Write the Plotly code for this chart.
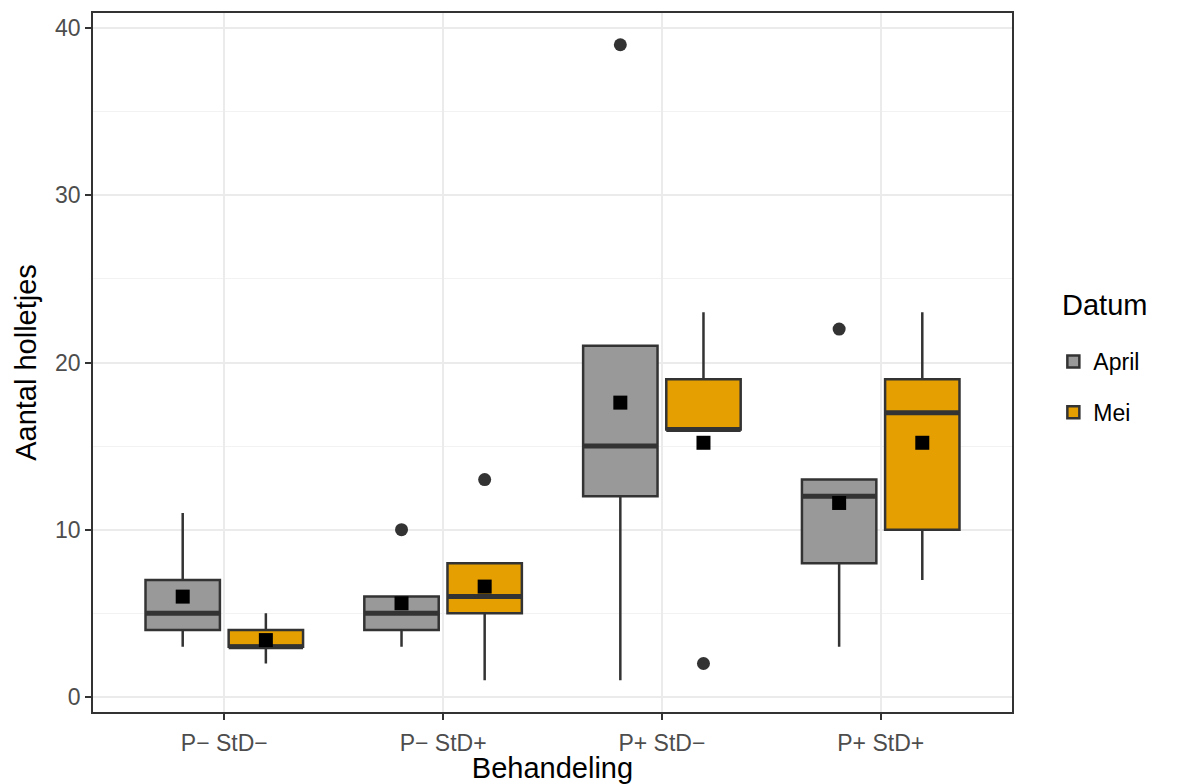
import numpy as np
import plotly.graph_objects as go

# Treatments on the x axis and the two sampling dates
behandelingen = ["P\u2212 StD\u2212", "P\u2212 StD+", "P+ StD\u2212", "P+ StD+"]
datums = ["April", "Mei"]

# Number of holes per replicate (5 replicates per treatment)
april = [
    [3, 4, 5, 7, 11],
    [3, 4, 5, 6, 10],
    [1, 12, 15, 21, 39],
    [3, 8, 12, 13, 22],
]
mei = [
    [2, 3, 3, 4, 5],
    [1, 5, 6, 8, 13],
    [2, 16, 16, 19, 23],
    [7, 10, 17, 19, 23],
]

kleuren = {"April": "#999999", "Mei": "#E69F00"}
reeksen = {"April": april, "Mei": mei}
dodge = {"April": -0.19, "Mei": 0.19}
box_width = 0.34
edge = "#333333"
font_family = "Liberation Sans, Arial, Helvetica, sans-serif"

fig = go.Figure()

for datum in datums:
    groups = reeksen[datum]
    xs, ys = [], []
    for i, vals in enumerate(groups):
        pos = i + 1 + dodge[datum]
        xs += [pos] * len(vals)
        ys += vals
    fig.add_trace(go.Box(
        x=xs, y=ys, name=datum,
        legendgroup=datum,
        width=box_width,
        quartilemethod="inclusive",
        boxpoints="outliers",
        fillcolor=kleuren[datum],
        line=dict(color=edge, width=2.5),
        marker=dict(color=edge, size=13, symbol="circle",
                    outliercolor=edge, line=dict(width=0)),
        whiskerwidth=0,
        showlegend=True,
    ))

    # thicker median bar, as in ggplot's boxplot
    mx, my = [], []
    for i, vals in enumerate(groups):
        pos = i + 1 + dodge[datum]
        med = float(np.median(vals))
        mx += [pos - box_width / 2, pos + box_width / 2, None]
        my += [med, med, None]
    fig.add_trace(go.Scatter(
        x=mx, y=my, mode="lines",
        legendgroup=datum,
        line=dict(color=edge, width=5),
        showlegend=False, hoverinfo="skip",
    ))

# group means as black squares
for datum in datums:
    groups = reeksen[datum]
    fig.add_trace(go.Scatter(
        x=[i + 1 + dodge[datum] for i in range(len(groups))],
        y=[float(np.mean(v)) for v in groups],
        mode="markers",
        legendgroup=datum,
        marker=dict(symbol="square", size=14, color="black"),
        showlegend=False,
    ))

fig.update_layout(
    width=1184, height=784,
    margin=dict(l=93, r=172, t=13, b=72),
    paper_bgcolor="white", plot_bgcolor="white",
    font=dict(family=font_family, color="black"),
    legend=dict(
        font=dict(size=23, color="black"),
        x=1.045, y=0.465, xanchor="left", yanchor="middle",
        bgcolor="rgba(0,0,0,0)",
        traceorder="grouped",
        tracegroupgap=18,
    ),
    annotations=[dict(
        text="Datum", xref="paper", yref="paper",
        x=1.052, y=0.582, xanchor="left", yanchor="middle",
        showarrow=False, font=dict(size=29, color="black"),
    )],
)

fig.update_xaxes(
    range=[0.4, 4.6],
    automargin=False,
    tickmode="array",
    tickvals=[1, 2, 3, 4],
    ticktext=behandelingen,
    tickfont=dict(size=23, color="#4D4D4D"),
    ticklabelstandoff=4,
    ticks="outside", ticklen=6, tickwidth=1.5, tickcolor=edge,
    showgrid=True, gridcolor="#EBEBEB", gridwidth=1.5,
    showline=True, linecolor=edge, linewidth=1.5, mirror=True,
    zeroline=False,
    title=dict(text="Behandeling", font=dict(size=29, color="black"), standoff=2),
)

fig.update_yaxes(
    range=[-0.9, 40.9],
    automargin=False,
    tickmode="array",
    tickvals=[0, 10, 20, 30, 40],
    tickfont=dict(size=23, color="#4D4D4D"),
    ticks="outside", ticklen=6, tickwidth=1.5, tickcolor=edge,
    showgrid=True, gridcolor="#EBEBEB", gridwidth=1.5,
    minor=dict(tickvals=[5, 15, 25, 35], showgrid=True,
               gridcolor="#F2F2F2", gridwidth=1, ticks=""),
    showline=True, linecolor=edge, linewidth=1.5, mirror=True,
    zeroline=False,
    title=dict(text="Aantal holletjes", font=dict(size=29, color="black"), standoff=10),
)

fig.write_html("out.html")
